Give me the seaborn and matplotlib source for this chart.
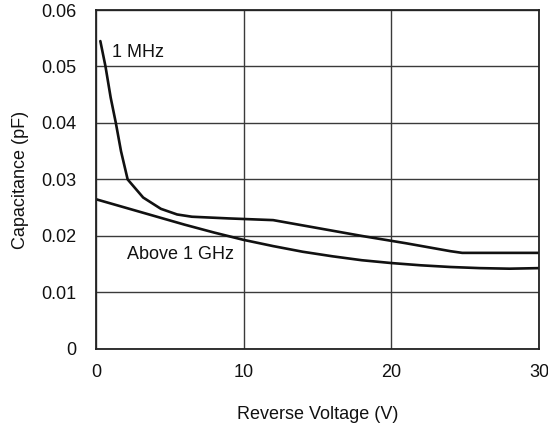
import matplotlib
matplotlib.use("Agg")
import matplotlib.pyplot as plt
import seaborn as sns
import pandas as pd

# Data
mhz_voltage = [0.3, 0.65, 1.0, 1.35, 1.7, 2.15, 3.2, 4.4, 5.5, 6.5, 9.0, 12.0, 15.0, 18.0, 21.0, 24.0, 24.8, 30.0]
mhz_cap = [0.0545, 0.0500, 0.0445, 0.0400, 0.0350, 0.0300, 0.0268, 0.0248, 0.0238, 0.0234, 0.0231, 0.0228,
           0.0214, 0.0200, 0.0187, 0.0173, 0.0170, 0.0170]

ghz_voltage = [0, 2, 4, 6, 8, 10, 12, 14, 16, 18, 20, 22, 24, 26, 28, 30]
ghz_cap = [0.0265, 0.0250, 0.0235, 0.0220, 0.0206, 0.0193, 0.0182, 0.0172, 0.0164, 0.0157, 0.0152,
           0.0148, 0.0145, 0.0143, 0.0142, 0.0143]

series_names = ["1 MHz", "Above 1 GHz"]
x_ticks = [0, 10, 20, 30]
y_ticks = [0, 0.01, 0.02, 0.03, 0.04, 0.05, 0.06]
y_tick_labels = ["0", "0.01", "0.02", "0.03", "0.04", "0.05", "0.06"]

df = pd.concat([
    pd.DataFrame({"V": mhz_voltage, "C": mhz_cap, "series": series_names[0]}),
    pd.DataFrame({"V": ghz_voltage, "C": ghz_cap, "series": series_names[1]}),
])

sns.set_theme(style="white")
plt.rcParams['font.family'] = ['Liberation Sans', 'DejaVu Sans']

fig = plt.figure(figsize=(5.48, 4.26), dpi=100)
ax = fig.add_axes([0.175, 0.181, 0.8086, 0.7955])

sns.lineplot(data=df, x="V", y="C", hue="series", palette=["#111111", "#111111"],
             linewidth=1.9, legend=False, ax=ax, sort=False)

ax.set_xlim(0, 30)
ax.set_ylim(0, 0.06)
ax.set_xticks(x_ticks)
ax.set_xticklabels([str(t) for t in x_ticks])
ax.set_yticks(y_ticks)
ax.set_yticklabels(y_tick_labels)
ax.grid(True, color="#3a3a3a", linewidth=1.0)
ax.tick_params(axis="both", length=0, labelsize=13, colors="#111111")
ax.tick_params(axis="x", pad=11)
ax.tick_params(axis="y", pad=14)
for s in ax.spines.values():
    s.set_color("#222222")
    s.set_linewidth(1.3)

ax.set_xlabel("Reverse Voltage (V)", fontsize=13, color="#111111", labelpad=18)
ax.set_ylabel("Capacitance (pF)", fontsize=13, color="#111111", labelpad=9)

ax.text(1.1, 0.0524, "1 MHz", fontsize=13, color="#111111", va="center", ha="left")
ax.text(2.1, 0.0168, "Above 1 GHz", fontsize=13, color="#111111", va="center", ha="left")

fig.savefig("out.png", dpi=100)
